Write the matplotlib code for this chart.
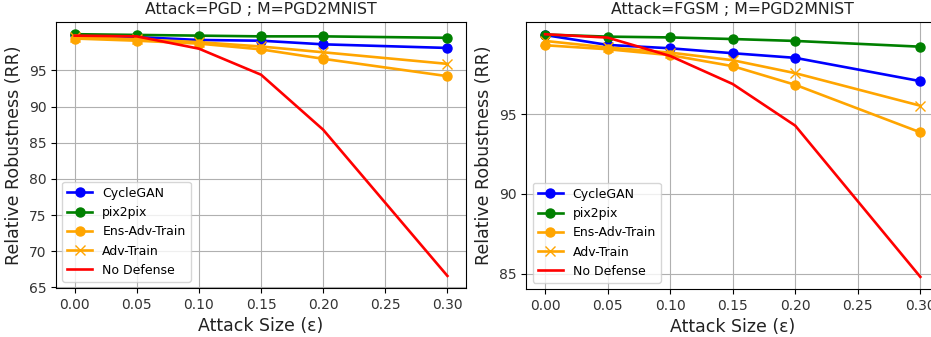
import numpy as np
import matplotlib
matplotlib.use("Agg")
import matplotlib.pyplot as plt

eps = [0.00, 0.05, 0.10, 0.15, 0.20, 0.30]

# PGD attack
pgd_cyclegan = [99.9, 99.6, 99.2, 99.1, 98.6, 98.1]
pgd_pix2pix = [100.0, 99.9, 99.8, 99.7, 99.7, 99.5]
pgd_ens_adv = [99.4, 99.1, 98.7, 97.9, 96.6, 94.2]
pgd_adv = [99.6, 99.3, 98.9, 98.3, 97.5, 95.9]
pgd_none = [99.8, 99.7, 98.0, 94.4, 86.8, 66.6]

# FGSM attack
fgsm_cyclegan = [99.95, 99.33, 99.12, 98.81, 98.52, 97.06]
fgsm_pix2pix = [99.98, 99.85, 99.8, 99.7, 99.58, 99.22]
fgsm_ens_adv = [99.31, 99.06, 98.69, 98.0, 96.83, 93.85]
fgsm_adv = [99.58, 99.17, 98.85, 98.37, 97.56, 95.52]
fgsm_none = [100.0, 99.79, 98.64, 96.88, 94.27, 84.79]

fig = plt.figure(figsize=(9.31, 3.37), dpi=100)
ax1 = fig.add_axes([0.0602, 0.1454, 0.4404, 0.789])
ax2 = fig.add_axes([0.5653, 0.1424, 0.4434, 0.792])


def draw(ax, cyc, pix, ens, adv, none, title, yticks):
    kw = dict(linewidth=1.9, markersize=6.5)
    ax.plot(eps, cyc, color='blue', marker='o', label='CycleGAN', **kw)
    ax.plot(eps, pix, color='green', marker='o', label='pix2pix', **kw)
    ax.plot(eps, ens, color='orange', marker='o', label='Ens-Adv-Train', **kw)
    ax.plot(eps, adv, color='orange', marker='x', label='Adv-Train', **kw)
    ax.plot(eps, none, color='red', label='No Defense', **kw)
    ax.set_title(title, fontsize=11.3, color='#222222')
    ax.set_xlabel('Attack Size (ε)', fontsize=12.5, color='#222222')
    ax.set_ylabel('Relative Robustness (RR)', fontsize=12.5, color='#222222')
    ax.set_yticks(yticks)
    ax.tick_params(labelsize=10, labelcolor='#333333')
    ax.grid(True)
    ax.legend(loc='lower left', fontsize=9)


draw(ax1, pgd_cyclegan, pgd_pix2pix, pgd_ens_adv, pgd_adv, pgd_none,
     'Attack=PGD ; M=PGD2MNIST', np.arange(65, 100, 5))
draw(ax2, fgsm_cyclegan, fgsm_pix2pix, fgsm_ens_adv, fgsm_adv, fgsm_none,
     'Attack=FGSM ; M=PGD2MNIST', np.arange(85, 100, 5))

plt.savefig('out.png', dpi=100)
